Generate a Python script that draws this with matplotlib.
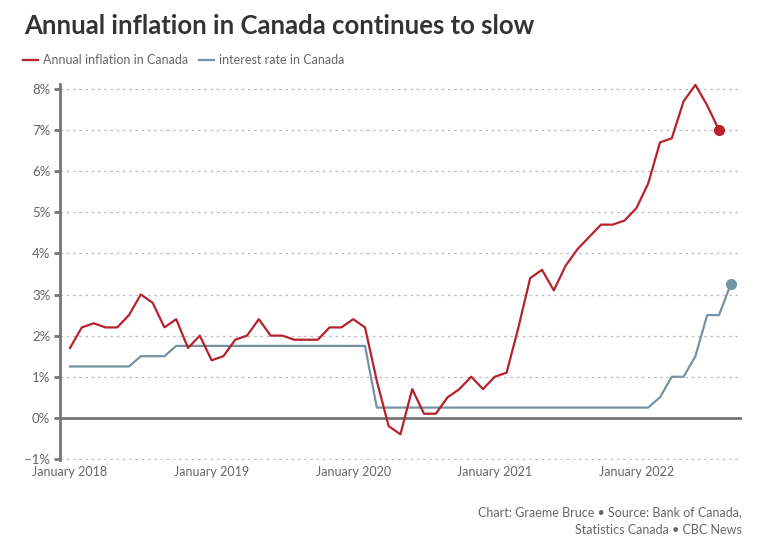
import matplotlib.pyplot as plt

plt.rcParams['font.family'] = ['Lato', 'DejaVu Sans']

# monthly values, January 2018 onwards
inflation = [1.7, 2.2, 2.3, 2.2, 2.2, 2.5, 3.0, 2.8, 2.2, 2.4, 1.7, 2.0,
             1.4, 1.5, 1.9, 2.0, 2.4, 2.0, 2.0, 1.9, 1.9, 1.9, 2.2, 2.2,
             2.4, 2.2, 0.9, -0.2, -0.4, 0.7, 0.1, 0.1, 0.5, 0.7, 1.0, 0.7,
             1.0, 1.1, 2.2, 3.4, 3.6, 3.1, 3.7, 4.1, 4.4, 4.7, 4.7, 4.8,
             5.1, 5.7, 6.7, 6.8, 7.7, 8.1, 7.6, 7.0]
interest = [1.25, 1.25, 1.25, 1.25, 1.25, 1.25, 1.5, 1.5, 1.5, 1.75, 1.75, 1.75,
            1.75, 1.75, 1.75, 1.75, 1.75, 1.75, 1.75, 1.75, 1.75, 1.75, 1.75, 1.75,
            1.75, 1.75, 0.25, 0.25, 0.25, 0.25, 0.25, 0.25, 0.25, 0.25, 0.25, 0.25,
            0.25, 0.25, 0.25, 0.25, 0.25, 0.25, 0.25, 0.25, 0.25, 0.25, 0.25, 0.25,
            0.25, 0.25, 0.5, 1.0, 1.0, 1.5, 2.5, 2.5, 3.25]
year_ticks = [0, 12, 24, 36, 48]
year_labels = ['January 2018', 'January 2019', 'January 2020', 'January 2021', 'January 2022']
y_ticks = [-1, 0, 1, 2, 3, 4, 5, 6, 7, 8]

red = '#b5222e'
blue = '#7693a4'
txt = '#666666'

fig = plt.figure(figsize=(7.81, 5.42), dpi=100)
ax = fig.add_axes([60/781, 1-460/542, 682/781, 376/542])

ax.plot(range(len(inflation)), inflation, color=red, lw=1.6, zorder=4)
ax.plot(range(len(interest)), interest, color=blue, lw=1.6, zorder=3)
ax.plot(len(inflation)-1, inflation[-1], 'o', color=red, ms=7, zorder=5)
ax.plot(len(interest)-1, interest[-1], 'o', color=blue, ms=7, zorder=5)

ax.set_xlim(-0.85, 56.95)
ax.set_ylim(-1.025, 8.12)

for v in y_ticks:
    if v != 0:
        ax.axhline(v, color='#bbbbbb', lw=0.9, ls=(0, (2, 3)), zorder=1)
ax.axhline(0, color='#757575', lw=2, zorder=2)

ax.set_yticks(y_ticks)
ax.set_yticklabels([('−' if v < 0 else '') + f'{abs(v)}%' for v in y_ticks])
ax.set_xticks(year_ticks)
ax.set_xticklabels(year_labels)
ax.tick_params(axis='y', length=4, width=2, color='#757575', labelsize=9.5,
               labelcolor=txt, pad=3)
ax.tick_params(axis='x', length=0, labelsize=9, labelcolor=txt, pad=4)
for s in ['top', 'right', 'bottom']:
    ax.spines[s].set_visible(False)
ax.spines['left'].set_color('#757575')
ax.spines['left'].set_linewidth(2)

fig.text(24/781, 1-26/542, 'Annual inflation in Canada continues to slow',
         fontsize=18.5, fontweight='bold', color='#333333', va='center')

# legend
fig.add_artist(plt.Line2D([23/781, 38/781], [1-60/542, 1-60/542], color=red, lw=1.6))
fig.text(43/781, 1-60/542, 'Annual inflation in Canada', fontsize=9, color=txt, va='center')
fig.add_artist(plt.Line2D([199/781, 214/781], [1-60/542, 1-60/542], color=blue, lw=1.6))
fig.text(219/781, 1-60/542, 'interest rate in Canada', fontsize=9, color=txt, va='center')

fig.text(742/781, 1-512/542, 'Chart: Graeme Bruce • Source: Bank of Canada,',
         fontsize=9, color=txt, ha='right', va='center')
fig.text(742/781, 1-530/542, 'Statistics Canada • CBC News',
         fontsize=9, color=txt, ha='right', va='center')

fig.savefig('out.png', dpi=100)
